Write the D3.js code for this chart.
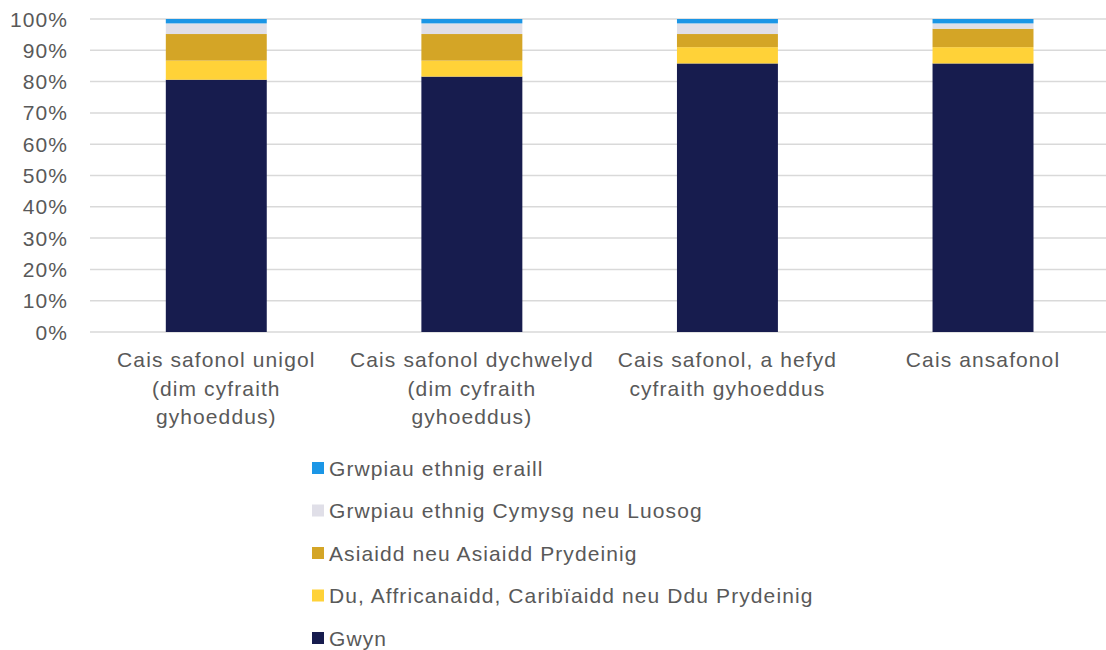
<html>
<head>
<meta charset="utf-8">
<script src="https://d3js.org/d3.v7.min.js"></script>
<style>
  body { margin: 0; background: #fff; }
  text { font-family: "Liberation Sans", Arial, sans-serif; fill: #595959; font-size: 21px; letter-spacing: 1.1px; }
</style>
</head>
<body>
<svg id="chart"></svg>
<script>
// categories (x-axis labels, already split into lines)
var categories = [
  ["Cais safonol unigol", "(dim cyfraith", "gyhoeddus)"],
  ["Cais safonol dychwelyd", "(dim cyfraith", "gyhoeddus)"],
  ["Cais safonol, a hefyd", "cyfraith gyhoeddus"],
  ["Cais ansafonol"]
];
// series, bottom to top (percent)
var seriesNames = [
  "Gwyn",
  "Du, Affricanaidd, Caribïaidd neu Ddu Prydeinig",
  "Asiaidd neu Asiaidd Prydeinig",
  "Grwpiau ethnig Cymysg neu Luosog",
  "Grwpiau ethnig eraill"
];
var gwyn     = [80.6, 81.6, 85.8, 85.8];
var du       = [6.1, 5.1, 5.2, 5.2];
var asiaidd  = [8.5, 8.5, 4.2, 5.9];
var cymysg   = [3.4, 3.4, 3.4, 1.7];
var eraill   = [1.4, 1.4, 1.4, 1.4];
var colours = ["#171c4e", "#ffd238", "#d4a526", "#e0dfe8", "#1b96e6"];
var yTicks = [0, 10, 20, 30, 40, 50, 60, 70, 80, 90, 100];

var W = 1106, H = 650;
var svg = d3.select("#chart").attr("width", W).attr("height", H);

var x = d3.scaleBand().domain(d3.range(categories.length)).range([88.5, 1110.8]).paddingInner(0.605).paddingOuter(0.3025);
var y = d3.scaleLinear().domain([0, 100]).range([332, 19]);

// gridlines
svg.append("g").selectAll("line").data(yTicks).join("line")
  .attr("x1", 90).attr("x2", W)
  .attr("y1", function(d){ return y(d); }).attr("y2", function(d){ return y(d); })
  .style("stroke", "#d9d9d9").style("stroke-width", 1.5);

// y labels
svg.append("g").selectAll("text").data(yTicks).join("text")
  .attr("x", 68).attr("y", function(d){ return y(d); })
  .attr("dy", "0.36em")
  .style("text-anchor", "end")
  .text(function(d){ return d + "%"; });

// stack
var table = categories.map(function(c, i){
  return { i: i, s0: gwyn[i], s1: du[i], s2: asiaidd[i], s3: cymysg[i], s4: eraill[i] };
});
var stack = d3.stack().keys(["s0", "s1", "s2", "s3", "s4"])(table);

svg.append("g").selectAll("g").data(stack).join("g")
  .attr("fill", function(d, k){ return colours[k]; })
  .selectAll("rect").data(function(d){ return d; }).join("rect")
  .attr("x", function(d){ return x(d.data.i); })
  .attr("width", x.bandwidth())
  .attr("y", function(d){ return y(Math.min(d[1], 100)); })
  .attr("height", function(d){ return y(d[0]) - y(Math.min(d[1], 100)); });

// x labels
var xl = svg.append("g").selectAll("text").data(categories).join("text")
  .attr("y", 367)
  .style("text-anchor", "middle");
xl.each(function(lines, i){
  var cx = x(i) + x.bandwidth() / 2;
  d3.select(this).selectAll("tspan").data(lines).join("tspan")
    .attr("x", cx)
    .attr("dy", function(d, j){ return j === 0 ? 0 : 28.5; })
    .text(function(d){ return d; });
});

// legend, top to bottom reversed order
var legendOrder = [4, 3, 2, 1, 0];
var lg = svg.append("g").selectAll("g").data(legendOrder).join("g")
  .attr("transform", function(d, r){ return "translate(312," + (468 + r * 42.5) + ")"; });
lg.append("rect").attr("x", 0).attr("y", -6).attr("width", 12).attr("height", 12)
  .attr("fill", function(k){ return colours[k]; });
lg.append("text").attr("x", 17).attr("dy", "0.36em")
  .text(function(k){ return seriesNames[k]; });
</script>
</body>
</html>
